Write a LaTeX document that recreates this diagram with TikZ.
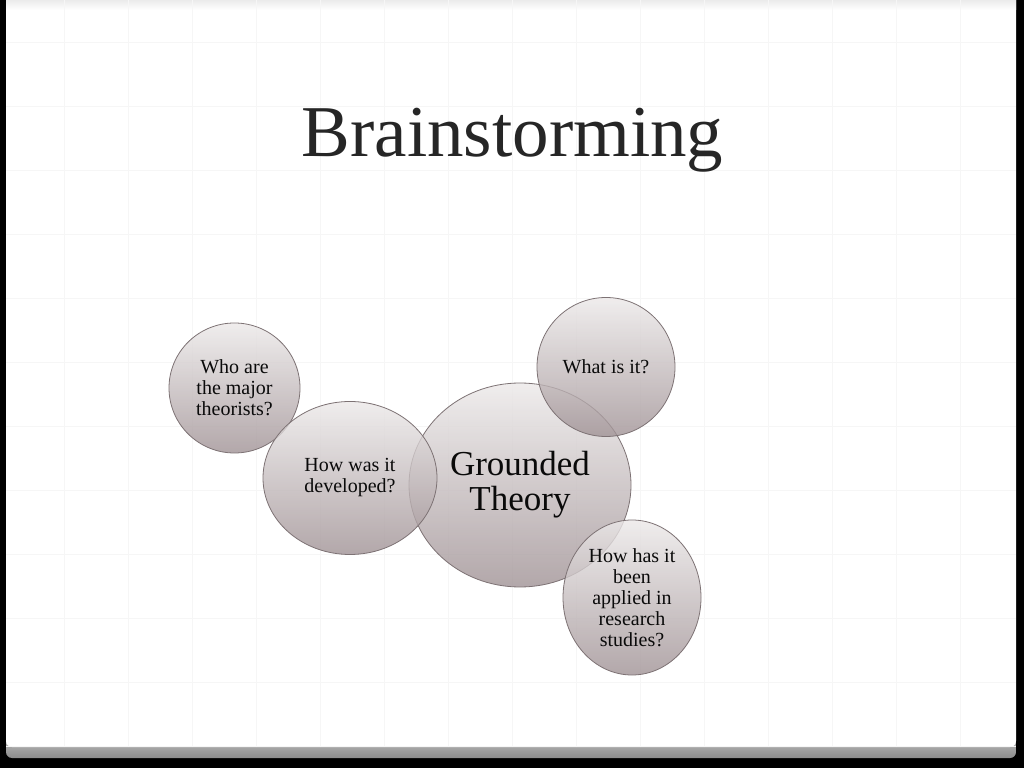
\documentclass[tikz,border=0pt]{standalone}
\usepackage{fontspec}
\setmainfont{Liberation Serif}
\usetikzlibrary{shapes.geometric, positioning}
\definecolor{bubbletop}{RGB}{236,233,233}
\definecolor{bubblebot}{RGB}{160,146,149}
\definecolor{bubbleline}{RGB}{125,114,116}
\definecolor{inktext}{RGB}{10,10,10}
\definecolor{titleink}{RGB}{38,38,38}
\definecolor{gridline}{RGB}{246,246,246}
\tikzset{%
	bubble/.style={draw=bubbleline, line width=0.8pt, ellipse, inner sep=0pt, align=center,%
		top color=bubbletop, bottom color=bubblebot, fill opacity=0.8, text opacity=1,%
		text=inktext, font=\fontsize{20}{21}\selectfont},
	core/.style={bubble, font=\fontsize{35}{35}\selectfont},
	slidetitle/.style={text=titleink, font=\fontsize{73}{80}\selectfont, inner sep=0pt}
}
\begin{document}
\begin{tikzpicture}[x=1pt, y=1pt]
	\useasboundingbox (0,0) rectangle (1024,768);
	% frame and slide
	\fill[black] (0,0) rectangle (1024,768);
	\shade[top color=black!18, bottom color=black!45, rounded corners=6pt] (6,10) rectangle (1016,40);
	\fill[white, rounded corners=6pt] (6,21) rectangle (1016,790);
	\shade[top color=black!8, bottom color=white] (6,758) rectangle (1016,768);
	\foreach \gx in {64,128,...,960}
		\draw[gridline, line width=0.8pt] (\gx,21) -- (\gx,768);
	\foreach \gy in {22,86,...,726}
		\draw[gridline, line width=0.8pt] (6,\gy) -- (1016,\gy);

	\node[slidetitle, anchor=base] (head) at (512.5,611) {Brainstorming};

	\node[core, minimum width=222, minimum height=204] (gt) at (520,283) {Grounded\\Theory};
	\node[bubble, minimum width=131, minimum height=130] (who) at (234.5,380) {Who are\\the major\\theorists?};
	\node[bubble, minimum width=174, minimum height=153] (dev) at (350,290) {How was it\\developed?};
	\node[bubble, minimum width=138, minimum height=139] (what) at (606,401) {What is it?};
	\node[bubble, minimum width=138, minimum height=155] (apply) at (632,170.5) {How has it\\been\\applied in\\research\\studies?};
\end{tikzpicture}
\end{document}
